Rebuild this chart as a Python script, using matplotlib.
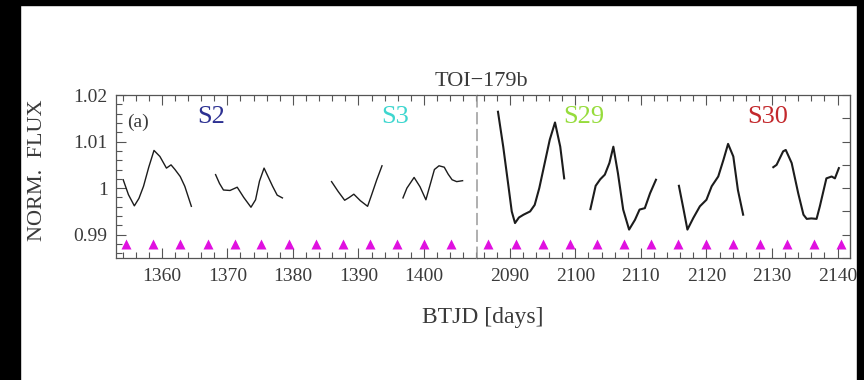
#!/usr/bin/env python
# TOI-179b TESS light curve, sectors 2/3 and 29/30, broken time axis

import matplotlib
matplotlib.use('Agg')
import matplotlib.pyplot as plt
import matplotlib.ticker as ticker
from matplotlib.patches import Rectangle

plt.rcParams['font.family'] = ['Liberation Serif', 'DejaVu Serif']

# Light curve segments (BTJD, normalised flux)
s2a_t = [1354.1, 1354.9, 1355.8, 1356.5, 1357.2, 1358.0, 1358.8, 1359.7, 1360.7, 1361.4, 1362.0, 1362.8, 1363.5, 1364.5]
s2a_f = [1.0018, 0.9986, 0.9962, 0.9978, 1.0004, 1.0045, 1.0081, 1.0068, 1.0043, 1.0050, 1.0040, 1.0025, 1.0004, 0.9961]
s2b_t = [1368.2, 1368.8, 1369.4, 1370.4, 1371.5, 1372.5, 1373.6, 1374.3, 1374.9, 1375.6, 1376.2, 1376.9, 1377.6, 1378.4]
s2b_f = [1.0029, 1.0010, 0.9996, 0.9995, 1.0002, 0.9980, 0.9959, 0.9975, 1.0015, 1.0043, 1.0025, 1.0004, 0.9985, 0.9979]
s3a_t = [1385.9, 1386.9, 1387.9, 1388.6, 1389.3, 1390.3, 1391.4, 1392.0, 1392.8, 1393.6]
s3a_f = [1.0014, 0.9993, 0.9974, 0.9980, 0.9987, 0.9973, 0.9961, 0.9985, 1.0018, 1.0048]
s3b_t = [1396.8, 1397.4, 1398.5, 1399.4, 1400.3, 1401.0, 1401.6, 1402.3, 1403.1, 1403.7, 1404.3, 1405.0, 1405.9]
s3b_f = [0.9979, 1.0000, 1.0023, 1.0003, 0.9975, 1.0010, 1.0040, 1.0048, 1.0045, 1.0030, 1.0018, 1.0014, 1.0016]

s29a_t = [2088.2, 2089.0, 2089.8, 2090.3, 2090.8, 2091.4, 2092.1, 2093.1, 2093.8, 2094.5, 2095.1, 2096.1, 2096.9, 2097.7, 2098.3]
s29a_f = [1.0164, 1.0089, 1.0004, 0.9950, 0.9925, 0.9937, 0.9943, 0.9950, 0.9964, 1.0000, 1.0039, 1.0104, 1.0141, 1.0089, 1.0021]
s29b_t = [2102.3, 2103.1, 2103.8, 2104.5, 2105.2, 2105.8, 2106.5, 2107.3, 2108.2, 2109.1, 2109.8, 2110.6, 2111.4, 2112.3]
s29b_f = [0.9955, 1.0005, 1.0019, 1.0029, 1.0054, 1.0089, 1.0032, 0.9954, 0.9911, 0.9932, 0.9954, 0.9957, 0.9989, 1.0018]
s30a_t = [2115.8, 2116.5, 2117.1, 2118.0, 2119.0, 2120.0, 2120.8, 2121.8, 2122.6, 2123.3, 2124.1, 2124.8, 2125.6]
s30a_f = [1.0005, 0.9955, 0.9911, 0.9936, 0.9961, 0.9975, 1.0004, 1.0025, 1.0061, 1.0095, 1.0068, 0.9996, 0.9943]
s30b_t = [2130.2, 2130.7, 2131.7, 2132.1, 2133.0, 2134.0, 2134.8, 2135.3, 2136.0, 2136.8, 2137.3, 2138.3, 2139.1, 2139.6, 2140.2]
s30b_f = [1.0045, 1.0050, 1.0079, 1.0082, 1.0054, 0.9989, 0.9943, 0.9934, 0.9935, 0.9934, 0.9961, 1.0021, 1.0025, 1.0021, 1.0043]

# Transit epochs (magenta triangles)
transits_left = [1354.6, 1358.7, 1362.8, 1367.0, 1371.1, 1375.2, 1379.4, 1383.5, 1387.7, 1391.8, 1395.9, 1400.0, 1404.1]
transits_right = [2086.7, 2090.9, 2095.0, 2099.2, 2103.3, 2107.5, 2111.6, 2115.7, 2119.9, 2124.1, 2128.2, 2132.3, 2136.4, 2140.6]
transit_level = 0.988

sector_labels = ['S2', 'S3', 'S29', 'S30']
sector_pos = [1367.5, 1395.6, 2101.3, 2129.4]
sector_colors = ['#2d3192', '#3ed6cf', '#96dc3c', '#c3282c']

GREY = '#555555'
TXT = '#3a3a3a'

fig = plt.figure(figsize=(8.64, 3.8), dpi=100)
axL = fig.add_axes([116/864, 1-258/380, (477-116)/864, (258-95)/380])
axR = fig.add_axes([477/864, 1-258/380, (850-477)/864, (258-95)/380])
axR.set_facecolor('none')

for ax in (axL, axR):
    ax.set_ylim(0.985, 1.02)
    ax.xaxis.set_major_locator(ticker.MultipleLocator(10))
    ax.xaxis.set_minor_locator(ticker.MultipleLocator(2))
    ax.yaxis.set_major_locator(ticker.MultipleLocator(0.01))
    ax.yaxis.set_minor_locator(ticker.MultipleLocator(0.002))
    ax.tick_params(which='both', direction='in', top=True, color=GREY,
                   labelcolor=TXT, labelsize=14, width=0.8)
    ax.tick_params(which='major', length=7)
    ax.tick_params(which='minor', length=4)
    ax.tick_params(axis='x', pad=7)
    for s in ax.spines.values():
        s.set_color(GREY)
        s.set_linewidth(0.9)

axL.set_xlim(1353, 1408.1)
axR.set_xlim(2085, 2141.9)

axL.tick_params(axis='y', right=False, pad=6)
axL.yaxis.set_major_formatter(ticker.FuncFormatter(lambda v, p: '%g' % round(v, 3)))
axL.spines['right'].set_linestyle((0, (7, 4)))
axL.spines['right'].set_color('#9a9a9a')
axL.spines['right'].set_linewidth(1.1)
axL.spines['right'].set_zorder(5)

axR.tick_params(axis='y', which='both', left=False, right=False, labelleft=False)
axR.spines['left'].set_visible(False)
sec = axR.secondary_yaxis('right')
sec.yaxis.set_major_locator(ticker.MultipleLocator(0.005))
sec.tick_params(direction='in', length=6, color=GREY, width=0.8, labelright=False)
sec.spines['right'].set_color(GREY)

lc = '#1c1c1c'
for t, f in [(s2a_t, s2a_f), (s2b_t, s2b_f), (s3a_t, s3a_f), (s3b_t, s3b_f)]:
    axL.plot(t, f, color=lc, lw=1.0)
for t, f in [(s29a_t, s29a_f), (s29b_t, s29b_f), (s30a_t, s30a_f), (s30b_t, s30b_f)]:
    axR.plot(t, f, color=lc, lw=1.5)

axL.plot(transits_left, [transit_level] * len(transits_left), '^', color='#e010e0', ms=7, mec='none')
axR.plot(transits_right, [transit_level] * len(transits_right), '^', color='#e010e0', ms=7, mec='none')

axL.text(1356.3, 1.0142, '(a)', fontsize=14, color=TXT, ha='center', va='center')
for lab, x, c in zip(sector_labels, sector_pos, sector_colors):
    ax = axL if x < 1500 else axR
    ax.text(x, 1.0152, lab, fontsize=19, color=c, ha='center', va='center')

fig.text(481/864, 1-81/380, 'TOI\u2212179b', fontsize=16, color=TXT, ha='center', va='center')
fig.text(483/864, 1-318/380, 'BTJD [days]', fontsize=17, color=TXT, ha='center', va='center')
fig.text(37/864, 1-170/380, 'NORM.  FLUX', fontsize=16, color=TXT, ha='center', va='center', rotation=90)

# black frame around the scanned picture
fig.patches.append(Rectangle((0, 0), 20/864, 1, transform=fig.transFigure, color='black', zorder=10))
fig.patches.append(Rectangle((0, 1-5/380), 1, 5/380, transform=fig.transFigure, color='black', zorder=10))
fig.patches.append(Rectangle((857/864, 0), 7/864, 1, transform=fig.transFigure, color='black', zorder=10))

plt.savefig('out.png', dpi=100)
